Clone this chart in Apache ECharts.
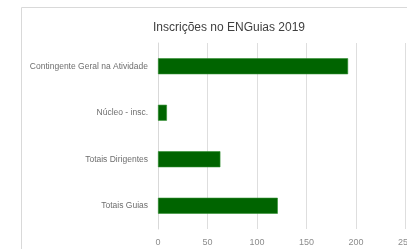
<!DOCTYPE html>
<html>
<head>
<meta charset="utf-8">
<script src="https://cdn.jsdelivr.net/npm/echarts@6/dist/echarts.min.js"></script>
<style>
  html, body { margin: 0; padding: 0; background: #fff; }
  #chart { width: 407px; height: 249px; }
</style>
</head>
<body>
<div id="chart"></div>
<script>
// categorias (de cima para baixo)
const categorias = ['Contingente Geral na Atividade', 'Núcleo - insc.', 'Totais Dirigentes', 'Totais Guias'];
// valores das barras
const inscricoes = [192, 9, 63, 121];
// escala do eixo x
const eixoMax = 250;
const eixoPasso = 50;

const mChart = echarts.init(document.getElementById('chart'));

const option = {
  animation: false,
  title: {
    text: 'Inscrições no ENGuias 2019',
    left: 224,
    textAlign: 'center',
    top: 17,
    textStyle: {
      fontFamily: 'Liberation Sans',
      fontWeight: 'normal',
      fontSize: 12,
      color: '#404040'
    }
  },
  // moldura do gráfico
  graphic: [{
    type: 'rect',
    shape: { x: 21.5, y: 7.5, width: 500, height: 400 },
    style: { fill: 'none', stroke: '#d9d9d9', lineWidth: 1 },
    silent: true,
    z: -1
  }],
  grid: {
    left: 158,
    right: 1.5,
    top: 43,
    bottom: 20,
    outerBoundsMode: 'none',
    containLabel: false
  },
  xAxis: {
    type: 'value',
    min: 0,
    max: eixoMax,
    interval: eixoPasso,
    axisLine: { show: false },
    axisTick: { show: false },
    splitLine: { lineStyle: { color: '#dedede', width: 1 } },
    axisLabel: {
      color: '#8c8c8c',
      fontFamily: 'Liberation Sans',
      fontSize: 9,
      margin: 9
    }
  },
  yAxis: {
    type: 'category',
    inverse: true,
    data: categorias,
    axisLine: { show: true, lineStyle: { color: '#d9d9d9' } },
    axisTick: { show: false },
    axisLabel: {
      color: '#6e6e6e',
      fontFamily: 'Liberation Sans',
      fontSize: 8.5,
      margin: 10
    }
  },
  series: [{
    name: 'Inscrições',
    type: 'bar',
    data: inscricoes,
    barWidth: 16,
    itemStyle: {
      color: '#006400',
      borderColor: '#2f8f2f',
      borderWidth: 0.6
    }
  }]
};

mChart.setOption(option);
</script>
</body>
</html>
